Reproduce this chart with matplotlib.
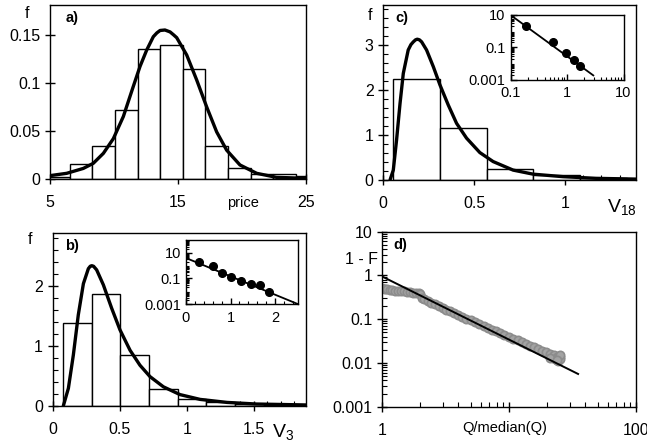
import numpy as np
import matplotlib
matplotlib.use("Agg")
from matplotlib import pyplot as plt
from matplotlib.ticker import MultipleLocator, FixedLocator, NullFormatter, LogLocator

plt.rcParams['font.family'] = ['Liberation Sans', 'DejaVu Sans']
plt.rcParams['mathtext.fontset'] = 'custom'
plt.rcParams['mathtext.rm'] = 'Liberation Sans'
plt.rcParams['mathtext.it'] = 'Liberation Sans'
plt.rcParams['axes.linewidth'] = 1.0

# ---- panel a: price histogram + fit
a_edges = [4.8, 6.56, 8.32, 10.08, 11.85, 13.6, 15.37, 17.13, 18.9, 20.7, 22.4, 24.2]
a_heights = [0.002, 0.0156, 0.034, 0.0715, 0.135, 0.139, 0.1146, 0.0347, 0.0118, 0.005, 0.0049, 0.0028]
a_curve_x = [5.0, 6.3, 7.6, 8.38, 9.17, 9.95, 10.73, 11.5, 12.03, 12.55, 13.07, 13.35, 13.6,
             13.98, 14.38, 14.65, 14.9, 15.68, 16.46, 17.24, 18.02, 18.8, 19.84, 21.15,
             22.7, 25.0]
a_curve_y = [0.0035, 0.0059, 0.011, 0.0163, 0.0267, 0.042, 0.065, 0.096, 0.117, 0.134, 0.148,
             0.152, 0.1545, 0.155, 0.153, 0.150, 0.147, 0.129, 0.103, 0.075, 0.049, 0.030,
             0.0146, 0.0059, 0.0017, 0.0007]

# ---- panel b: V3
b_edges = [0.079, 0.292, 0.505, 0.719, 0.933, 1.146, 1.36, 1.573, 1.787]
b_heights = [1.39, 1.86, 0.856, 0.28, 0.125, 0.06, 0.03, 0.02, 0.01]
b_curve_x = [0.079, 0.117, 0.154, 0.191, 0.229, 0.266, 0.28, 0.291, 0.305, 0.328, 0.378,
             0.44, 0.502, 0.577, 0.651, 0.726, 0.826, 0.95, 1.10, 1.30, 1.52, 1.90]
b_curve_y = [0.0, 0.295, 0.85, 1.52, 2.04, 2.29, 2.33, 2.34, 2.33, 2.27, 2.02, 1.63, 1.27,
             0.93, 0.68, 0.49, 0.32, 0.19, 0.11, 0.06, 0.033, 0.017]
b_ins_x = [0.29, 0.60, 0.81, 1.02, 1.23, 1.45, 1.66, 1.87]
b_ins_y = [1.9, 0.95, 0.27, 0.13, 0.062, 0.038, 0.03, 0.009]
b_ins_line_x = [0.0, 2.5]
b_ins_line_y = [4.0, 0.001]

# ---- panel c: V18
c_edges = [0.051, 0.312, 0.568, 0.824, 1.08]
c_heights = [2.24, 1.16, 0.237, 0.11, 0.05]
c_curve_x = [0.037, 0.055, 0.073, 0.092, 0.11, 0.137, 0.152, 0.165, 0.177, 0.187, 0.199,
             0.211, 0.238, 0.275, 0.312, 0.357, 0.403, 0.458, 0.531, 0.604, 0.714, 0.824,
             0.989, 1.17, 1.39]
c_curve_y = [0.0, 0.22, 0.89, 1.70, 2.37, 2.89, 3.01, 3.07, 3.115, 3.13, 3.115, 3.07, 2.89,
             2.52, 2.11, 1.67, 1.26, 0.93, 0.61, 0.41, 0.22, 0.13, 0.074, 0.037, 0.02]
c_ins_x = [0.19, 0.56, 0.95, 1.35, 1.72]
c_ins_y = [2.15, 0.215, 0.044, 0.017, 0.0071]
c_ins_line_x = [0.1, 2.92]
c_ins_line_y = [10.0, 0.0018]

# ---- panel d: 1 - F vs Q/median(Q)
d_x = [1.0, 1.05, 1.1, 1.15, 1.2, 1.27, 1.33, 1.4, 1.48, 1.56, 1.65, 1.75, 1.85, 1.95, 2.0,
       2.05, 2.15, 2.3, 2.45, 2.6, 2.8, 3.0, 3.2, 3.45, 3.7, 4.0, 4.3, 4.6, 5.0, 5.4, 5.8,
       6.3, 6.8, 7.3, 7.9, 8.5, 9.2, 10.0, 10.8, 11.7, 12.6, 13.6, 14.7, 15.8, 17.0, 18.3,
       19.7, 21.0, 22.5, 24.0, 25.0, 24.5, 25.0, 23.0, 21.0, 25.0, 24.0]
d_y = [0.51, 0.50, 0.48, 0.47, 0.46, 0.45, 0.44, 0.43, 0.43, 0.42, 0.41, 0.40, 0.40, 0.39,
       0.37, 0.31, 0.285, 0.26, 0.24, 0.22, 0.20, 0.18, 0.165, 0.152, 0.138, 0.125, 0.113,
       0.103, 0.094, 0.085, 0.078, 0.070, 0.063, 0.058, 0.053, 0.048, 0.044, 0.040, 0.036,
       0.033, 0.030, 0.027, 0.025, 0.023, 0.021, 0.019, 0.0175, 0.016, 0.015, 0.014, 0.0135,
       0.011, 0.012, 0.012, 0.013, 0.015, 0.0115]
d_line_x = [1.0, 35.0]
d_line_y = [0.95, 0.0056]

W, H = 647, 447
fig = plt.figure(figsize=(W / 100, H / 100), dpi=100)


def add_ax(l, r, t, b, **kw):
    return fig.add_axes([l / W, 1 - b / H, (r - l) / W, (b - t) / H], **kw)


def style(ax, size=11.5):
    ax.tick_params(which='major', direction='inout', length=7, width=1, labelsize=size,
                   top=False, right=False)
    ax.tick_params(which='minor', direction='in', length=3.5, width=0.8, top=False, right=False)


def hist(ax, edges, heights):
    widths = np.diff(list(edges) + [edges[-1] + (edges[1] - edges[0])])
    ax.bar(edges, heights, width=widths, align='edge', color='white', edgecolor='black',
           linewidth=1.0, zorder=2)


curve_kw = dict(color='black', lw=2.4, zorder=3, solid_capstyle='round',
                solid_joinstyle='round')

# a)
ax = add_ax(50, 306, 5, 179)
hist(ax, a_edges, a_heights)
ax.plot(a_curve_x, a_curve_y, **curve_kw)
ax.set_xlim(5, 25)
ax.set_ylim(0, 0.181)
ax.set_xticks([5, 15, 25])
ax.set_yticks([0, 0.05, 0.1, 0.15])
ax.set_yticklabels(['0', '0.05', '0.1', '0.15'])
style(ax)
ax.tick_params(axis='x', pad=8)
ax.text(-0.09, 0.95, 'f', transform=ax.transAxes, fontsize=11.5, ha='center', va='center')
ax.text(0.085, 0.925, 'a)', transform=ax.transAxes, fontsize=10.5, fontweight='bold',
        ha='center', va='center')
ax.text(20.1, -0.138, 'price', transform=ax.get_xaxis_transform(), fontsize=10.5,
        ha='center', va='center')

# b)
ax = add_ax(52.7, 306, 232.7, 406)
hist(ax, b_edges, b_heights)
ax.plot(b_curve_x, b_curve_y, **curve_kw)
ax.set_xlim(0, 1.89)
ax.set_ylim(0, 2.89)
ax.set_xticks([0, 0.5, 1, 1.5])
ax.set_xticklabels(['0', '0.5', '1', '1.5'])
ax.set_yticks([0, 1, 2])
ax.xaxis.set_minor_locator(MultipleLocator(0.1))
ax.yaxis.set_minor_locator(MultipleLocator(0.2))
style(ax)
ax.tick_params(axis='x', pad=8)
ax.text(-0.09, 0.958, 'f', transform=ax.transAxes, fontsize=11.5, ha='center', va='center')
ax.text(0.075, 0.923, 'b)', transform=ax.transAxes, fontsize=10.5, fontweight='bold',
        ha='center', va='center')
ax.text(0.91, -0.148, r'V$_3$', transform=ax.transAxes, fontsize=14, ha='center', va='center')

ins = add_ax(185.7, 297.7, 240, 304)
ins.plot(b_ins_line_x, b_ins_line_y, color='black', lw=1.3, zorder=2)
ins.plot(b_ins_x, b_ins_y, 'o', color='black', ms=5.5, zorder=3)
ins.set_yscale('log')
ins.set_xlim(0, 2.5)
ins.set_ylim(0.001, 100)
ins.set_xticks([0, 1, 2])
ins.xaxis.set_minor_locator(MultipleLocator(0.2))
ins.yaxis.set_major_locator(FixedLocator([0.001, 0.1, 10]))
ins.yaxis.set_minor_locator(LogLocator(base=10, subs=np.arange(2, 10), numticks=20))
ins.yaxis.set_minor_formatter(NullFormatter())
ins.set_yticklabels(['0.001', '0.1', '10'])
style(ins, 10.5)
ins.tick_params(which='major', direction='in', length=4)
ins.tick_params(which='minor', length=2)
ins.tick_params(axis='x', pad=5)

# c)
ax = add_ax(383.3, 636, 5, 180)
hist(ax, c_edges, c_heights)
ax.plot(c_curve_x, c_curve_y, **curve_kw)
ax.set_xlim(0, 1.39)
ax.set_ylim(0, 3.89)
ax.set_xticks([0, 0.5, 1])
ax.set_xticklabels(['0', '0.5', '1'])
ax.set_yticks([0, 1, 2, 3])
ax.xaxis.set_minor_locator(MultipleLocator(0.1))
ax.yaxis.set_minor_locator(MultipleLocator(0.2))
style(ax)
ax.tick_params(axis='x', pad=8)
ax.text(-0.053, 0.94, 'f', transform=ax.transAxes, fontsize=11.5, ha='center', va='center')
ax.text(0.073, 0.928, 'c)', transform=ax.transAxes, fontsize=10.5, fontweight='bold',
        ha='center', va='center')
ax.text(0.943, -0.153, r'V$_{18}$', transform=ax.transAxes, fontsize=14, ha='center',
        va='center')

ins = add_ax(510.5, 623.5, 15, 79.5)
ins.plot(c_ins_line_x, c_ins_line_y, color='black', lw=1.3, zorder=2)
ins.plot(c_ins_x, c_ins_y, 'o', color='black', ms=5.5, zorder=3)
ins.set_xscale('log')
ins.set_yscale('log')
ins.set_xlim(0.1, 10)
ins.set_ylim(0.001, 10)
ins.xaxis.set_major_locator(FixedLocator([0.1, 1, 10]))
ins.set_xticklabels(['0.1', '1', '10'])
ins.yaxis.set_major_locator(FixedLocator([0.001, 0.1, 10]))
ins.set_yticklabels(['0.001', '0.1', '10'])
for axis in (ins.xaxis, ins.yaxis):
    axis.set_minor_locator(LogLocator(base=10, subs=np.arange(2, 10), numticks=20))
    axis.set_minor_formatter(NullFormatter())
style(ins, 10.5)
ins.tick_params(which='major', direction='in', length=4)
ins.tick_params(which='minor', length=2)
ins.tick_params(axis='x', pad=5)

# d)
ax = add_ax(382, 636, 231.7, 406.7)
ax.plot(d_x, d_y, 'o', mfc='#a3a3a3', mec='#8c8c8c', mew=1.2, ms=6, zorder=2)
ax.plot(d_line_x, d_line_y, color='black', lw=1.4, zorder=3)
ax.set_xscale('log')
ax.set_yscale('log')
ax.set_xlim(1, 100)
ax.set_ylim(0.001, 10)
ax.xaxis.set_major_locator(FixedLocator([1, 10, 100]))
ax.set_xticklabels(['1', '', '100'])
ax.yaxis.set_major_locator(FixedLocator([0.001, 0.01, 0.1, 1, 10]))
ax.set_yticklabels(['0.001', '0.01', '0.1', '1', '10'])
for axis in (ax.xaxis, ax.yaxis):
    axis.set_minor_locator(LogLocator(base=10, subs=np.arange(2, 10), numticks=20))
    axis.set_minor_formatter(NullFormatter())
style(ax)
ax.tick_params(axis='x', pad=8)
ax.text(-0.08, 0.84, '1 - F', transform=ax.transAxes, fontsize=11.5, ha='center', va='center')
ax.text(0.071, 0.924, 'd)', transform=ax.transAxes, fontsize=10.5, fontweight='bold',
        ha='center', va='center')
ax.text(0.484, -0.123, 'Q/median(Q)', transform=ax.transAxes, fontsize=10.5, ha='center',
        va='center')

fig.savefig('out.png', dpi=100)
